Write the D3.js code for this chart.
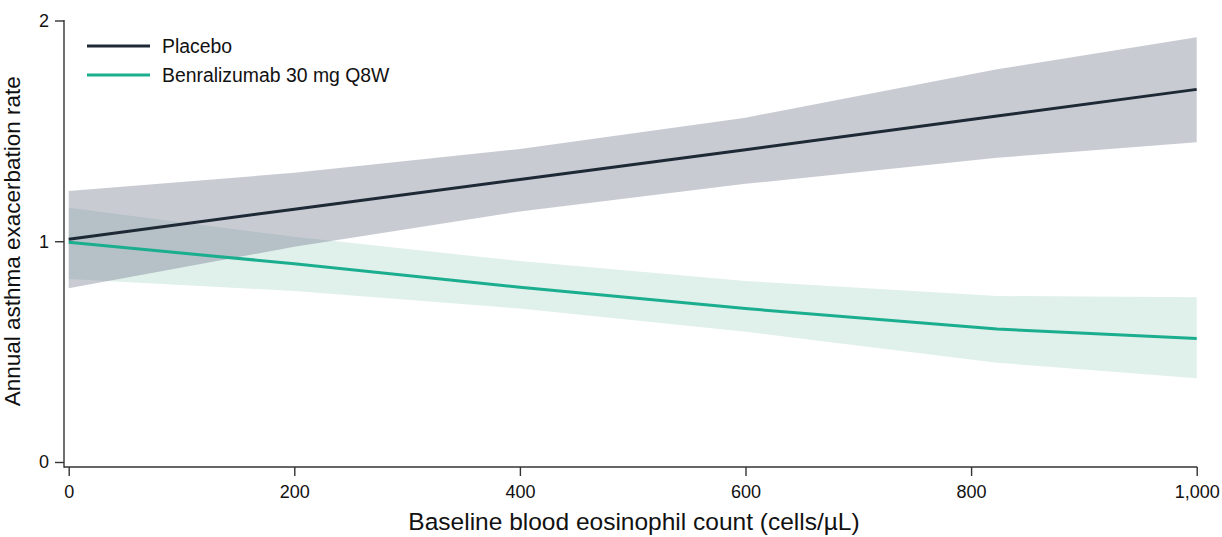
<!DOCTYPE html>
<html lang="en">
	<head>
		<meta charset="utf-8">
		<title>Exacerbation rate vs eosinophil count</title>
		<script src="https://d3js.org/d3.v7.min.js"></script>
		<style>
			body { margin: 0; background: #fff; }
			text { font-family: "Liberation Sans", Arial, Helvetica, sans-serif; fill: #111; }
		</style>
	</head>
	<body>
		<div id="chart"></div>
		<script>
// values
var eos = [0, 200, 400, 600, 823, 1000];

var placebo      = [1.009, 1.145, 1.28, 1.415, 1.567, 1.688];
var placeboLo    = [0.787, 0.975, 1.135, 1.26, 1.378, 1.448];
var placeboHi    = [1.228, 1.31, 1.418, 1.56, 1.779, 1.924];

var benra        = [0.995, 0.898, 0.792, 0.695, 0.602, 0.56];
var benraLo      = [0.829, 0.775, 0.695, 0.59, 0.45, 0.379];
var benraHi      = [1.152, 1.02, 0.91, 0.82, 0.752, 0.746];

var xTicks = [0, 200, 400, 600, 800, 1000];
var yTicks = [0, 1, 2];
var seriesNames = ["Placebo", "Benralizumab 30 mg Q8W"];

var W = 1222, H = 537;

var svg = d3.select("#chart").append("svg")
	.attr("width", W)
	.attr("height", H);

var x = d3.scaleLinear().domain([0, 1000]).range([68.7, 1196.7]);
var y = d3.scaleLinear().domain([0, 2]).range([462, 20.5]);

function rows(mid, lo, hi) {
	return eos.map(function (e, i) { return {x: e, m: mid[i], lo: lo[i], hi: hi[i]}; });
}
var pRows = rows(placebo, placeboLo, placeboHi);
var bRows = rows(benra, benraLo, benraHi);

var area = d3.area()
	.x(function (d) { return x(d.x); })
	.y0(function (d) { return y(d.lo); })
	.y1(function (d) { return y(d.hi); });

var line = d3.line()
	.x(function (d) { return x(d.x); })
	.y(function (d) { return y(d.m); });

// bands
svg.append("path").datum(bRows)
	.attr("d", area)
	.attr("fill", "#e0f0eb");
svg.append("path").datum(pRows)
	.attr("d", area)
	.attr("fill", "rgb(103,109,131)")
	.attr("fill-opacity", 0.355);

// lines
svg.append("path").datum(pRows)
	.attr("d", line)
	.attr("fill", "none")
	.attr("stroke", "#1e2936")
	.attr("stroke-width", 3);
svg.append("path").datum(bRows)
	.attr("d", line)
	.attr("fill", "none")
	.attr("stroke", "#1aae8e")
	.attr("stroke-width", 3);

// axes
var axisColor = "#333";
var xAxis = svg.append("g")
	.attr("transform", "translate(0,467)")
	.call(d3.axisBottom(x).tickValues(xTicks).tickSize(9).tickPadding(9)
		.tickFormat(d3.format(",")));
var yAxis = svg.append("g")
	.attr("transform", "translate(64,0)")
	.call(d3.axisLeft(y).tickValues(yTicks).tickSize(9).tickPadding(6)
		.tickFormat(d3.format("d")));

[xAxis, yAxis].forEach(function (g) {
	g.select(".domain").remove();
	g.selectAll(".tick line").attr("stroke", axisColor).attr("stroke-width", 1.4);
	g.selectAll(".tick text")
		.style("font-family", '"Liberation Sans", Arial, sans-serif')
		.style("font-size", "18px")
		.attr("fill", "#111");
});

// axis lines meet in the corner
svg.append("line")
	.attr("x1", 64).attr("x2", x(1000) + 0.5)
	.attr("y1", 467).attr("y2", 467)
	.attr("stroke", axisColor).attr("stroke-width", 1.4);
svg.append("line")
	.attr("x1", 64).attr("x2", 64)
	.attr("y1", y(2) - 0.5).attr("y2", 467.7)
	.attr("stroke", axisColor).attr("stroke-width", 1.4);

// axis titles
svg.append("text")
	.attr("x", 634)
	.attr("y", 530)
	.attr("text-anchor", "middle")
	.style("font-size", "24.5px")
	.text("Baseline blood eosinophil count (cells/µL)");

svg.append("text")
	.attr("transform", "translate(20," + y(1) + ") rotate(-90)")
	.attr("text-anchor", "middle")
	.style("font-size", "22.5px")
	.text("Annual asthma exacerbation rate");

// legend
var legendColors = ["#1e2936", "#1aae8e"];
var legend = svg.append("g");
seriesNames.forEach(function (name, i) {
	var ly = 46 + i * 29;
	legend.append("line")
		.attr("x1", 87).attr("x2", 150)
		.attr("y1", ly).attr("y2", ly)
		.attr("stroke", legendColors[i])
		.attr("stroke-width", 3);
	legend.append("text")
		.attr("x", 162)
		.attr("y", ly + 7)
		.style("font-size", "19.4px")
		.text(name);
});
		</script>
	</body>
</html>
